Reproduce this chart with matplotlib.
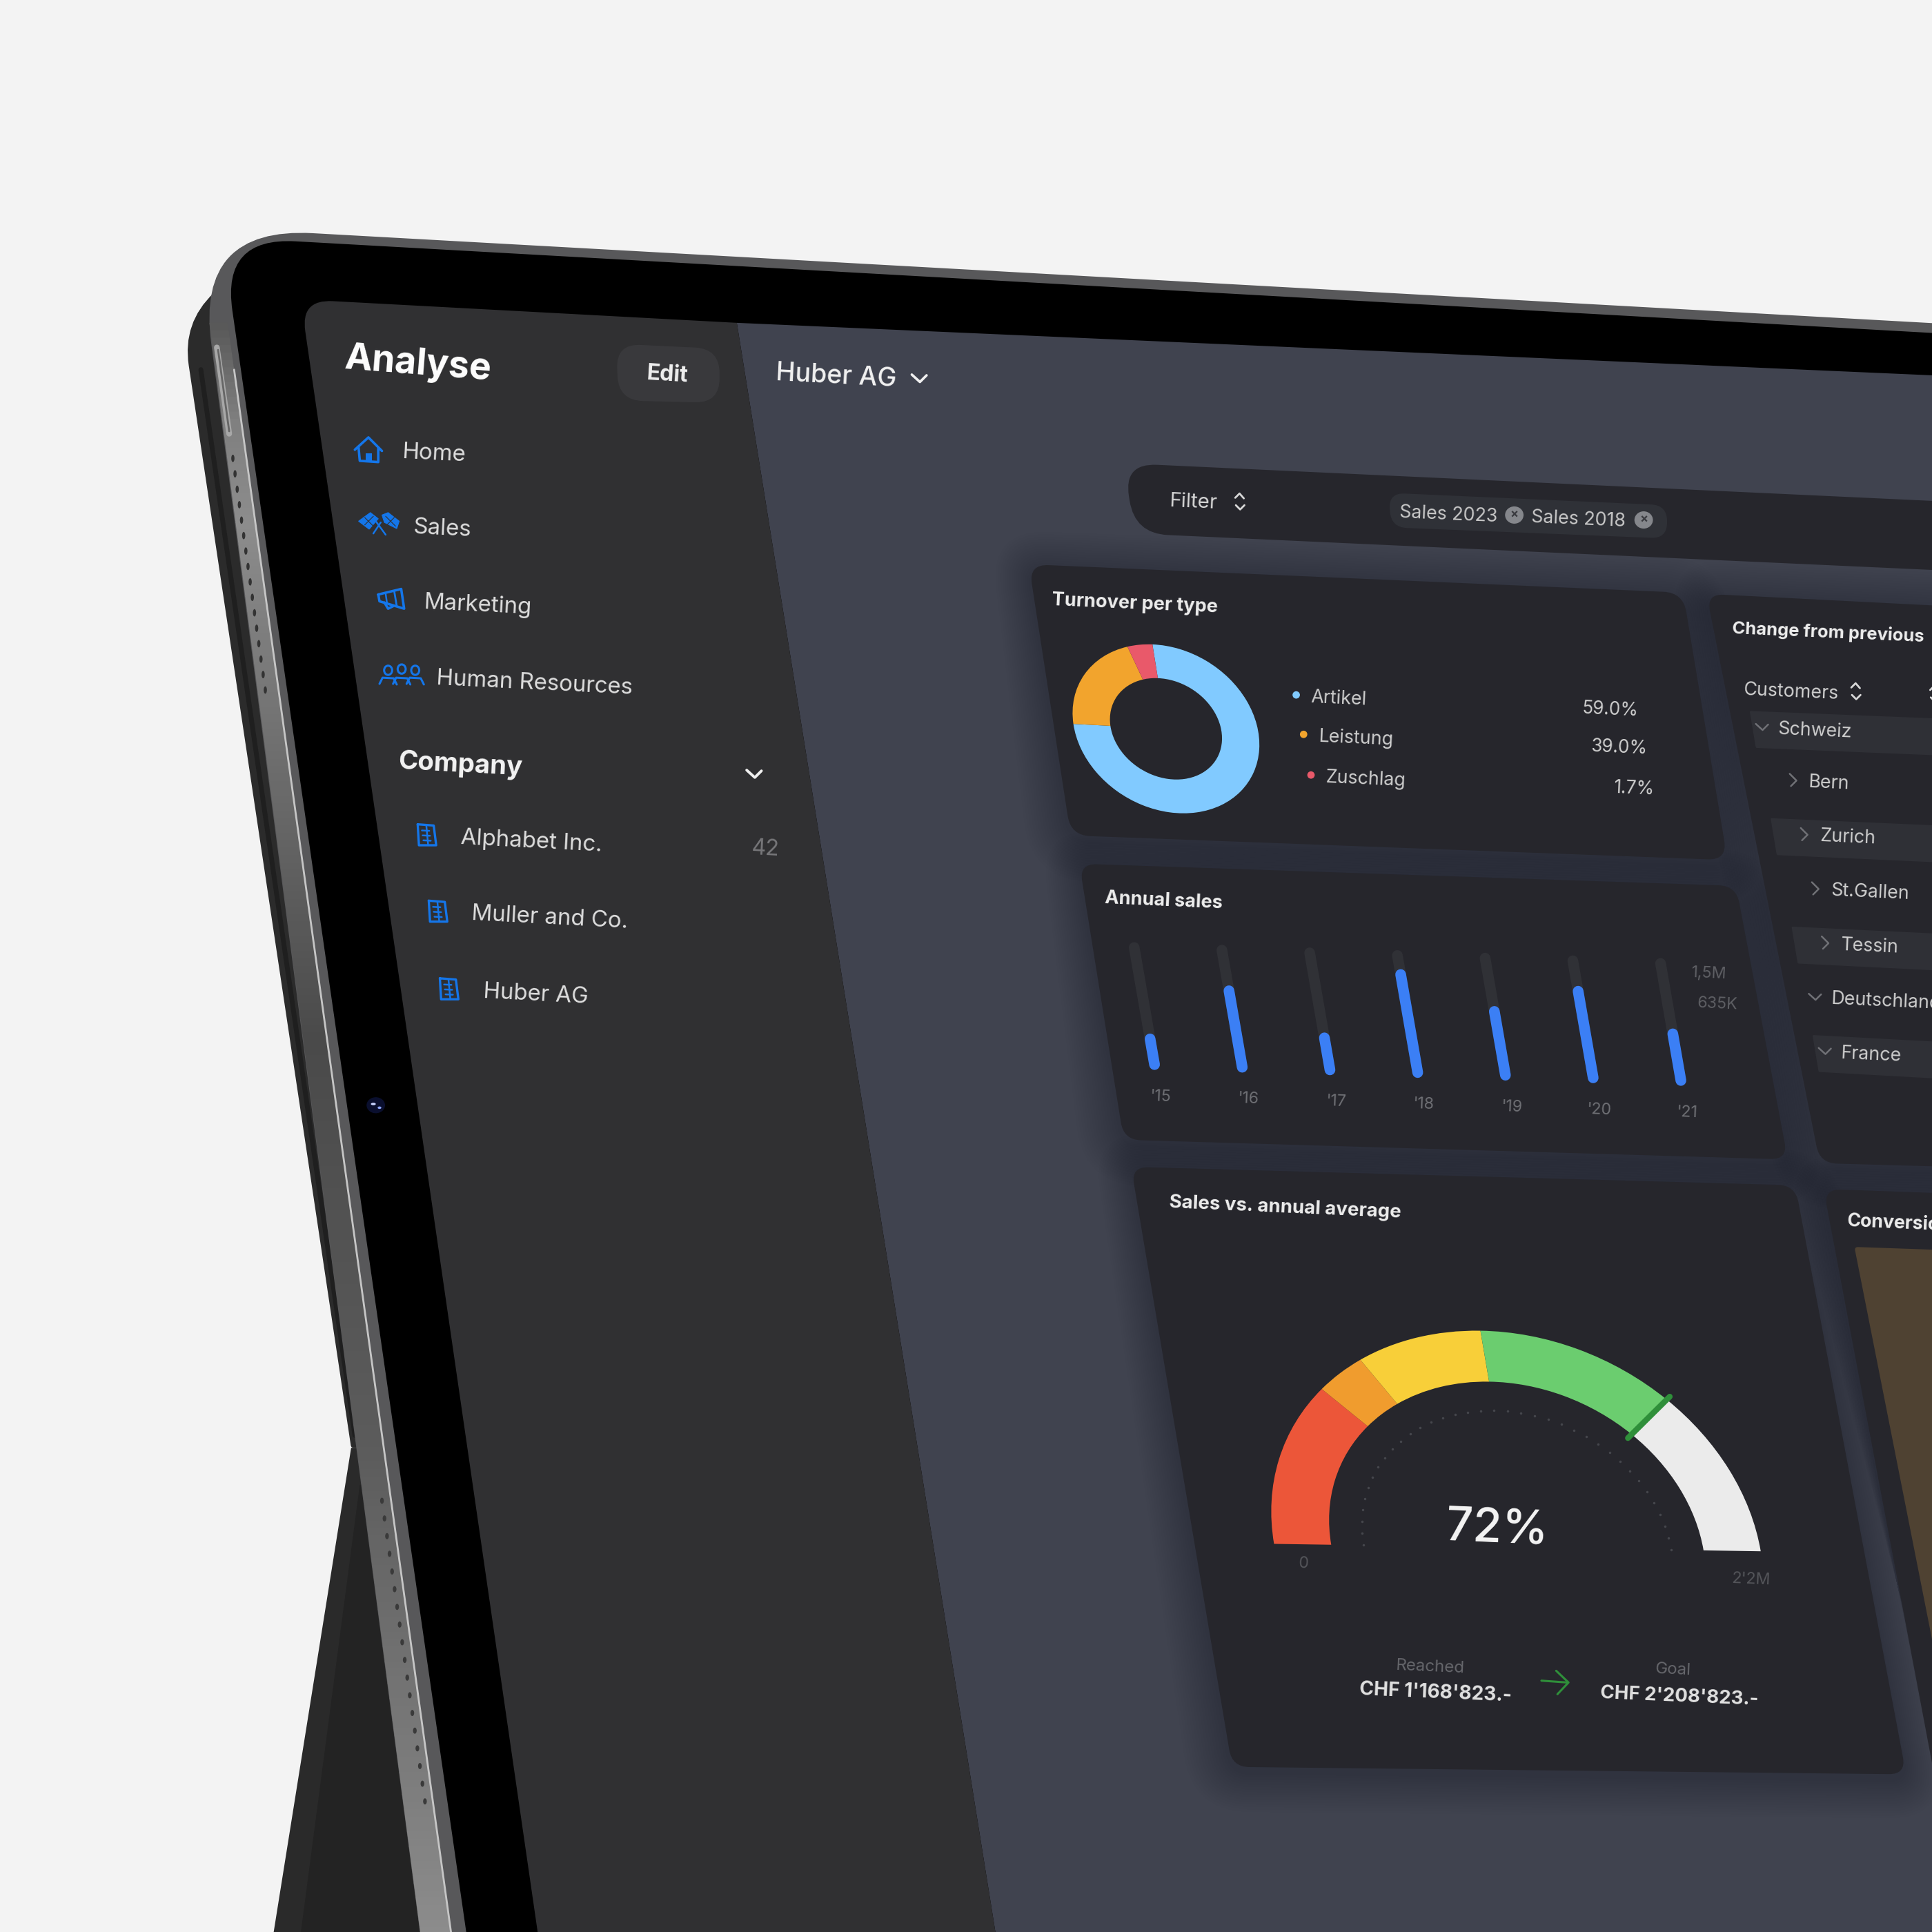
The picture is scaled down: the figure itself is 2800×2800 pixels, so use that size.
import matplotlib
matplotlib.use("Agg")
import matplotlib.pyplot as plt
import numpy as np
from matplotlib.patches import Ellipse, PathPatch, Polygon, Wedge
from matplotlib.path import Path
from matplotlib.transforms import Affine2D

plt.rcParams['font.family'] = ['Inter', 'DejaVu Sans']

# picture values
nav_items = ["Home", "Sales", "Marketing", "Human Resources"]
companies = ["Alphabet Inc.", "Muller and Co.", "Huber AG"]
donut_labels = ["Artikel", "Leistung", "Zuschlag"]
donut_texts = ["59.0%", "39.0%", "1.7%"]
donut_arcs = [74.4, 20.1, 4.4]
donut_colors = ["#81caff", "#f2a42d", "#e9596a"]
years = ["'15", "'16", "'17", "'18", "'19", "'20", "'21"]
annual_sales = [0.28, 0.68, 0.33, 0.85, 0.58, 0.76, 0.445]
gauge_spans = [46, 13, 31, 46, 44]
gauge_colors = ["#ec5639", "#f09c2e", "#f8cf39", "#6bcd6f", "#ebebeb"]
tree_rows = ["Schweiz", "Bern", "Zurich", "St.Gallen", "Tessin", "Deutschland", "France"]
tree_open = [True, False, False, False, False, True, True]
tree_strip = [True, False, True, False, True, False, True]

BLUE = "#1476ea"
CARD = "#26262c"
MAIN = "#40434f"
SIDE = "#303032"

fig = plt.figure(figsize=(14, 14), dpi=200, facecolor="#f3f3f3")
ax = fig.add_axes([0, 0, 1, 1])
ax.set_xlim(0, 1568)
ax.set_ylim(1568, 0)
ax.axis('off')


def rounded(pts, r, color, z=1, alpha=None):
    # polygon with quadratic corners, r can be one value or one per corner
    pts = np.array(pts, float)
    n = len(pts)
    rs = [r] * n if np.isscalar(r) else r
    verts, codes = [], []
    for i in range(n):
        p, a, b = pts[i], pts[i - 1], pts[(i + 1) % n]
        p1 = p + (a - p) / np.linalg.norm(a - p) * rs[i]
        p2 = p + (b - p) / np.linalg.norm(b - p) * rs[i]
        verts += [p1, p, p2]
        codes += [Path.MOVETO if i == 0 else Path.LINETO, Path.CURVE3, Path.CURVE3]
    verts.append(verts[0])
    codes.append(Path.CLOSEPOLY)
    ax.add_patch(PathPatch(Path(verts, codes), fc=color, ec='none', zorder=z, alpha=alpha))


def card(pts, r):
    # soft shadow first, then the card
    pts = np.array(pts, float)
    mid = pts.mean(axis=0)
    for grow in range(2, 34, 2):
        grown = pts + np.sign(pts - mid) * grow + np.array([0, 4])
        rounded(grown, r + grow, "#20222a", 4.8, 0.018)
    rounded(pts, r, CARD, 5)


def t(x, y, s, size, color="#e6e6e6", weight="normal", rot=-2.5, ha="left"):
    ax.text(x, y, s, fontsize=size * 0.643, color=color, fontweight=weight, rotation=rot,
            rotation_mode='anchor', ha=ha, va='center', zorder=10)


def line(xs, ys, color, lw=1.0, z=8):
    ax.plot(xs, ys, color=color, lw=lw, solid_capstyle='round', solid_joinstyle='round', zorder=z)


def chevron(x, y, kind, color="#d8d8d8", s=5.0, lw=1.0):
    if kind == "down":
        line([x - s, x + 0.1 * s, x + s], [y - s * 0.5, y + s * 0.5, y - s * 0.4], color, lw)
    elif kind == "right":
        line([x - s * 0.5, x + s * 0.6, x - s * 0.3], [y - s, y + 0.1 * s, y + s], color, lw)
    else:
        line([x - 3.5, x, x + 3.5], [y - 3, y - 6.5, y - 2.5], color, lw)
        line([x - 3, x + 0.5, x + 4], [y + 3, y + 6.5, y + 3], color, lw)


def home_icon(x, y):
    line([x - 11, x, x + 11], [y + 1, y - 9, y + 2], BLUE, 1.3)
    line([x - 8, x - 7, x + 8, x + 8], [y - 1, y + 10, y + 11, y], BLUE, 1.3)
    ax.add_patch(Polygon([(x - 2, y + 4), (x + 3, y + 4), (x + 3, y + 10), (x - 2, y + 10)], fc=BLUE, zorder=8))


def flags_icon(x, y):
    left = [(-17, -2), (-7.4, -9), (-1, -4), (-8.4, 4.5)]
    right = [(2, -7), (7, -9), (16, -2), (14, 4), (4, -1)]
    for shape in (left, right):
        ax.add_patch(Polygon([(x + a, y + b) for a, b in shape], fc=BLUE, ec=BLUE, lw=0.4, zorder=8))
    line([x - 5, x + 1], [y + 8, y - 1], BLUE, 0.9)
    line([x + 5, x - 3], [y + 9, y - 2], BLUE, 0.9)
    # checker lines
    line([x - 12, x - 5], [y + 1, y - 6], SIDE, 0.4, 8.5)
    line([x - 12, x - 5], [y - 5, y + 2], SIDE, 0.4, 8.5)
    line([x + 5, x + 13], [y - 6, y + 2], SIDE, 0.4, 8.5)
    line([x + 6, x + 12], [y + 1, y - 5], SIDE, 0.4, 8.5)


def mega_icon(x, y):
    line([x - 10, x + 8.6, x + 11, x - 9, x - 10], [y - 3.5, y - 8, y + 8, y + 2, y - 3.5], BLUE, 1.3)
    line([x - 5, x - 2, x + 2], [y + 3, y + 8, y + 6], BLUE, 1.3)
    line([x + 3, x + 5], [y - 6, y + 6], BLUE, 1.0)
    line([x - 4, x - 3], [y - 4, y + 3], BLUE, 0.9)


def people_icon(x, y):
    for dx in (-11, 0, 11):
        ax.add_patch(Ellipse((x + dx, y - 4 - (dx == 0)), 6.5, 7.5, fc='none', ec=BLUE, lw=1.1, zorder=8))
        line([x + dx - 7, x + dx - 4.5, x + dx + 4.5, x + dx + 7], [y + 7, y + 2, y + 2.5, y + 7.5], BLUE, 1.1)


def building_icon(x, y):
    line([x - 7, x + 6, x + 8, x - 6, x - 7], [y - 9, y - 8, y + 8, y + 8, y - 9], BLUE, 1.2)
    for k in (-4, 0, 4):
        line([x - 3 + k * 0.15, x + 3 + k * 0.15], [y + k, y + k + 0.3], BLUE, 0.9)
    line([x, x + 1.5], [y - 8, y + 8], BLUE, 0.9)


# tablet body
rounded([(190, 222), (148, 262), (285, 1175), (305, 1175)], [0, 35, 2, 0], "#2b2b2b", 1)
line([163, 288], [300, 1165], "#1f1f1f", 2.5, 1.5)
ax.add_patch(Polygon([(285, 1175), (217, 1600), (350, 1600), (300, 1175)], fc="#2a2a2a", zorder=1))
ax.add_patch(Polygon([(292, 1205), (240, 1600), (350, 1600), (306, 1205)], fc="#232323", zorder=1.2))
rounded([(159, 184), (1600, 264), (1600, 1600), (345, 1600)], [95, 0, 0, 0], "#58585a", 2)

band_y = np.arange(262, 1600, 6)
band_c = np.interp(band_y, [262, 340, 420, 840, 1175, 1568], [0.35, 0.5, 0.55, 0.29, 0.36, 0.55])
for yy, g in zip(band_y, band_c):
    x0 = 168 + 0.131 * (yy - 255)
    x1 = 190 + 0.139 * (yy - 300)
    ax.add_patch(Polygon([(x0 + 1, yy), (x1, yy), (x1 + 0.9, yy + 6.5), (x0 + 1.9, yy + 6.5)],
                         fc=(g, g, g), ec='none', zorder=2.2))
line([190, 366], [300, 1568], "#c6c6c6", 1.0, 2.4)

# volume button and speaker holes
line([176, 186], [282, 352], "#a8a8a8", 3.0, 2.5)
line([177, 186], [284, 350], "#666666", 1.0, 2.6)
for yy in np.linspace(372, 560, 16):
    ax.add_patch(Ellipse((189 + 0.14 * (yy - 372), yy), 2.6, 6, fc="#333333", zorder=2.6))
for yy in np.linspace(1218, 1462, 18):
    ax.add_patch(Ellipse((310 + 0.143 * (yy - 1218), yy), 3, 5, fc="#3a3a3a", zorder=2.6))

rounded([(180, 192.5), (1600, 272), (1600, 1600), (383, 1600)], [60, 0, 0, 0], "#000000", 3)
ax.add_patch(Ellipse((305, 897), 15, 13, fc="#0a0f2e", zorder=3.5))
ax.add_patch(Ellipse((303, 896), 4, 2, fc="#c9d4ff", zorder=3.6))
ax.add_patch(Ellipse((308, 899), 3, 2, fc="#8fa6ff", zorder=3.6))

# screen
ax.add_patch(Polygon([(598, 262), (1600, 306), (1600, 1600), (813, 1600)], fc=MAIN, zorder=4))
rounded([(244, 243), (598, 262), (813, 1600), (441, 1600)], [26, 0, 0, 0], SIDE, 6)

t(280, 291, "Analyse", 30, "#ffffff", "bold", -4.5)
rounded([(500, 279), (584, 283), (584, 327), (502, 325)], 20, "#39393c", 6.5)
t(525, 303, "Edit", 18, "#f0f0f0", "bold", -3.5)
t(630, 303, "Huber AG", 21, "#f2f2f2", "medium", -3)
chevron(746, 307, "down", "#f0f0f0", 6, 1.3)

nav_xy = [(326, 367), (335, 428), (344, 489), (354, 551)]
for (x, y), name in zip(nav_xy, nav_items):
    t(x, y, name, 18.5, "#dedede", rot=-2.8)
home_icon(299, 364)
flags_icon(308, 425)
mega_icon(317, 486)
people_icon(326, 548)

t(323, 618, "Company", 21.5, "#f4f4f4", "bold", -3)
chevron(612, 628, "down", "#f0f0f0", 6, 1.4)
company_xy = [(374, 680), (383, 742), (392, 805)]
for (x, y), name in zip(company_xy, companies):
    t(x, y, name, 18.5, "#dedede", rot=-3)
    building_icon(x - 28, y - 2)
t(621, 689, "42", 18, "#77777a", ha="center", rot=-3)

# filter bar
rounded([(912, 376), (1600, 408), (1600, 464), (921, 433)], 27, CARD, 5)
t(949, 407, "Filter", 16.5, "#d8d8d8")
chevron(1006, 407, "updown")
rounded([(1127, 400), (1353, 410), (1353, 437), (1129, 428)], 13, "#2f3137", 5.5)
t(1136, 416, "Sales 2023", 15, "#c9c9c9")
t(1243, 420, "Sales 2018", 15, "#c9c9c9")
for cx, cy in ((1229, 418), (1334, 422)):
    ax.add_patch(Ellipse((cx, cy), 15, 14, fc="#85878c", zorder=6))
    t(cx, cy, "×", 10, "#3a3b40", "bold", ha="center", rot=0)

# cards
card([(835, 458), (1366, 481), (1402, 698), (869, 678)], 16)
card([(876, 701), (1409, 719), (1451, 941), (912, 925)], 14)
card([(918, 947), (1457, 962), (1547, 1440), (1000, 1434)], 14)
card([(1385, 482), (1620, 494), (1620, 948), (1477, 944)], 14)
card([(1480, 965), (1620, 970), (1620, 1680), (1600, 1600)], 14)
rounded([(1505, 1012), (1620, 1016), (1620, 1600), (1600, 1492)], [3, 0, 0, 0], "#4f4232", 5.5)

# donut
t(854, 487, "Turnover per type", 15.2, "#eeeeee", "bold")
m_donut = Affine2D(np.array([[75, -11, 946.3], [3, -68.5, 591.5], [0, 0, 1]], float)) + ax.transData
start = 90
arc_total = sum(donut_arcs)
for value, col in zip(donut_arcs, donut_colors):
    sweep = value / arc_total * 360
    ax.add_patch(Wedge((0, 0), 1, start - sweep, start, width=0.4, fc=col, ec='none', transform=m_donut, zorder=6))
    start -= sweep
legend_xy = [(1064, 565), (1070, 597), (1076, 630)]
value_xy = [(1330, 577), (1337, 608), (1343, 641)]
for (x, y), (vx, vy), name, txt, col in zip(legend_xy, value_xy, donut_labels, donut_texts, donut_colors):
    ax.add_patch(Ellipse((x - 12, y - 1), 6, 6, fc=col, zorder=6))
    t(x, y + 1, name, 15, "#cfcfcf")
    t(vx, vy, txt, 14.7, "#cfcfcf", ha="right")

# bars
t(897, 729, "Annual sales", 15.2, "#eeeeee", "bold")
for i, (lab, frac) in enumerate(zip(years, annual_sales)):
    bx, by = 937 + i * 71.2, 864 + i * 2.15
    dx, dy = -16.5, -95
    line([bx, bx + dx], [by, by + dy], "#303136", 5.6, 6)
    rise = 103 * frac - 8
    line([bx, bx + dx * rise / 95], [by, by - rise], "#3b7ff5", 5.6, 7)
    t(942 + i * 71.2, 890 + i * 2.15, lab, 13, "#6f7075", ha="center")
t(1387, 790, "1,5M", 13, "#5f6065", ha="center")
t(1394, 815, "635K", 13, "#5f6065", ha="center")

# gauge
t(949, 976, "Sales vs. annual average", 15.5, "#eeeeee", "bold")
m_gauge = Affine2D(np.array([[197.5, -30, 1231.5], [3, -176, 1256], [0, 0, 1]], float)) + ax.transData
start = 180
for span, col in zip(gauge_spans, gauge_colors):
    ax.add_patch(Wedge((0, 0), 1, start - span, start, width=0.235, fc=col, ec='none', transform=m_gauge, zorder=6))
    start -= span
mark = np.radians(gauge_spans[-1])
ax.plot([0.74 * np.cos(mark), 1.02 * np.cos(mark)], [0.74 * np.sin(mark), 1.02 * np.sin(mark)],
        color="#2f8f3a", lw=3.0, solid_capstyle='round', transform=m_gauge, zorder=7)
dots = np.radians(np.arange(0, 181, 5))
ax.scatter(0.632 * np.cos(dots), 0.632 * np.sin(dots), s=1.6, color="#45464c", transform=m_gauge, zorder=6, linewidths=0)

t(1215, 1242, "72%", 38, "#f5f5f5", "medium", ha="center")
t(1058, 1269, "0", 13, "#55565b", ha="center")
t(1421, 1282, "2'2M", 13, "#55565b", ha="center")
t(1161, 1353, "Reached", 13.5, "#66676c", ha="center")
t(1165, 1374, "CHF 1'168'823.-", 15.7, "#e2e2e2", "bold", ha="center")
t(1358, 1355, "Goal", 13.5, "#66676c", ha="center")
t(1363, 1377, "CHF 2'208'823.-", 15.5, "#e2e2e2", "bold", ha="center")
line([1251, 1272], [1364, 1365.5], "#2f8f3a", 1.1)
line([1263, 1273, 1264], [1356, 1365.5, 1375], "#2f8f3a", 1.1)

# customer tree
t(1406, 510, "Change from previous", 14.3, "#eeeeee", "bold")
t(1415, 560, "Customers", 15, "#d4d4d4")
chevron(1506, 561, "updown")
chevron(1570, 563, "updown")
tree_xy = [(1443, 592), (1468, 635), (1477, 679), (1486, 723), (1494, 767), (1486, 811), (1494, 855)]
strip_x = [1420, 0, 1437, 0, 1454, 0, 1471]
for i, ((x, y), name) in enumerate(zip(tree_xy, tree_rows)):
    if tree_strip[i]:
        sx = strip_x[i]
        sy = y - 15
        rounded([(sx, sy), (1620, sy + 8), (1620, sy + 38), (sx + 5, sy + 30)], 1, "#2f3036", 5.5)
    t(x, y, name, 15, "#cfcfcf")
    chevron(x - 13, y - 2, "down" if tree_open[i] else "right", "#707176", 5, 0.9)
t(1499, 991, "Conversion", 15, "#eeeeee", "bold")

fig.savefig("out.png", dpi=200, facecolor=fig.get_facecolor())
